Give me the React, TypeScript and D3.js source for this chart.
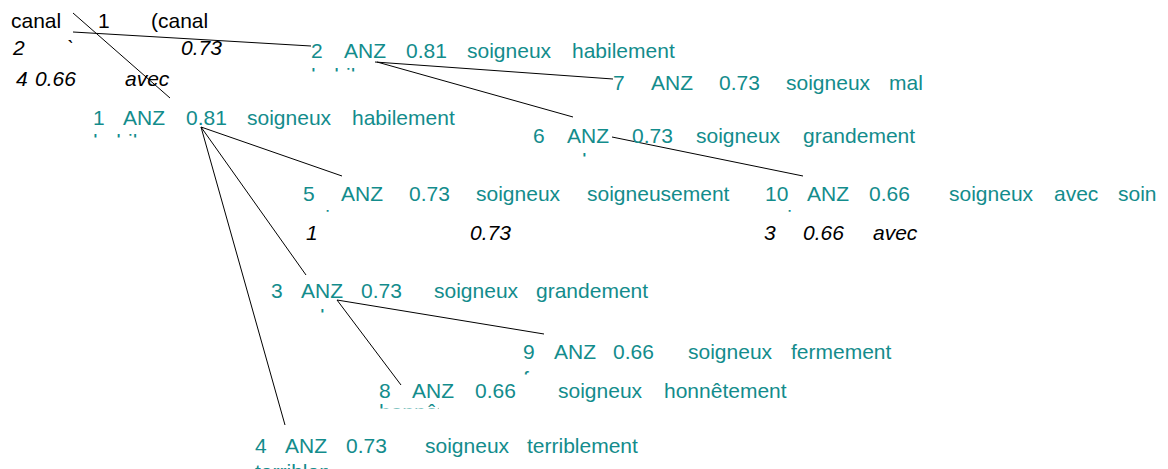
import React from "react";
import * as d3 from "d3";

// ---- data ----
const nodeIds = ["1", "2", "3", "4", "5", "6", "7", "8", "9", "10"];
const nodeLang = "ANZ";
const nodeScores = ["0.81", "0.81", "0.73", "0.73", "0.73", "0.73", "0.73", "0.66", "0.66", "0.66"];
const nodeHead = "soigneux";
const nodeGloss = ["habilement", "habilement", "grandement", "terriblement", "soigneusement", "grandement", "mal", "honnêtement", "fermement", "avec soin"];
const nodeSub = ["habilement", "habilement", "grandement", "terriblement", "soigneusement", "grandement", "mal", "honnêtement", "fermement", "soin"];
const nodeParent = ["root", "root", "1", "1", "1", "2", "2", "3", "3", "6"];

// black annotation rows
const annoRows = [
  ["canal", "1", "(canal"],
  ["2", "`", "0.73"],
  ["4", "0.66", "avec"],
  ["1", "0.73"],
  ["3", "0.66", "avec"],
];
const annoItalic = [false, true, true, true, true];

// ---- layout (pixel positions) ----
const W = 1168;
const H = 469;
const TEAL = "#138c8c";
const FONT = "'Liberation Sans', Arial, sans-serif";
const FS = 21;

const annoLayout = [
  { xs: [11, 98, 151], y: 28 },
  { xs: [13, 67, 181], y: 55 },
  { xs: [16, 35, 125], y: 86 },
  { xs: [306, 470], y: 240 },
  { xs: [764, 803, 873], y: 240 },
];

const nodeLayout = {
  "1": { xs: [93, 123, 186, 247, 352], y: 125, sub: { dy: 24, h: 4, w: 46 } },
  "2": { xs: [311, 344, 406, 467, 572], y: 58, sub: { dy: 25, h: 4, w: 46 } },
  "3": { xs: [271, 301, 361, 434, 536], y: 298, sub: { dy: 26, h: 4, w: 55 } },
  "4": { xs: [255, 285, 346, 425, 527], y: 453, sub: { dy: 26, h: 10, w: 75 } },
  "5": { xs: [303, 341, 409, 476, 587], y: 201, sub: { dy: 24, h: 3, w: 30 } },
  "6": { xs: [533, 567, 632, 696, 803], y: 143, sub: { dy: 25, h: 4, w: 55 } },
  "7": { xs: [613, 651, 719, 786, 889], y: 90, sub: { dy: 25, h: 4, w: 0 } },
  "8": { xs: [379, 412, 475, 558, 664], y: 398, sub: { dy: 21, h: 5, w: 62 } },
  "9": { xs: [523, 554, 613, 688, 791], y: 359, sub: { dy: 27, h: 4, w: 10 } },
  "10": { xs: [765, 807, 869, 949, 1054, 1118], y: 201, sub: { dy: 24, h: 3, w: 30 } },
};

// edge end points, keyed by child id: [from, to]
const edgeLayout = {
  "1": [[73, 13], [170, 98]],
  "2": [[73, 32], [311, 46]],
  "3": [[201, 127], [306, 275]],
  "4": [[201, 127], [285, 425]],
  "5": [[201, 127], [342, 176]],
  "6": [[377, 62], [573, 117]],
  "7": [[375, 62], [613, 79]],
  "8": [[337, 300], [401, 385]],
  "9": [[337, 300], [544, 334]],
  "10": [[612, 137], [803, 176]],
};

const line = d3.line<number[]>().x(d => d[0]).y(d => d[1]);

export default function App() {
  const nodes = nodeIds.map((id, i) => ({
    id,
    parent: nodeParent[i],
    words: [id, nodeLang, nodeScores[i], nodeHead, ...nodeGloss[i].split(" ")],
    sub: nodeSub[i],
  }));

  return (
    <svg
      width={W}
      height={H}
      viewBox={`0 0 ${W} ${H}`}
      style={{ position: "absolute", left: 0, top: 0, background: "#fff" }}
      fontFamily={FONT}
      fontSize={FS}
    >
      <defs>
        {nodes.map(n => {
          const L = nodeLayout[n.id];
          const top = L.y + L.sub.dy - 15.5;
          return (
            <clipPath id={`sub-${n.id}`} key={n.id}>
              <rect x={L.xs[0] - 2} y={top} width={L.sub.w} height={L.sub.h} />
            </clipPath>
          );
        })}
      </defs>

      {/* edges */}
      <g stroke="#000" strokeWidth={1} fill="none">
        {nodes.map(n => (
          <path key={n.id} d={line(edgeLayout[n.id]) || ""} />
        ))}
      </g>

      {/* black annotation rows */}
      {annoRows.map((row, r) => (
        <g key={r} fill="#000" fontStyle={annoItalic[r] ? "italic" : "normal"}>
          {row.map((w, j) => (
            <text key={j} x={annoLayout[r].xs[j]} y={annoLayout[r].y}>{w}</text>
          ))}
        </g>
      ))}

      {/* nodes */}
      {nodes.map(n => {
        const L = nodeLayout[n.id];
        return (
          <g key={n.id} fill={TEAL}>
            {n.words.map((w, j) => (
              <text key={j} x={L.xs[j]} y={L.y}>{w}</text>
            ))}
            <text x={L.xs[0]} y={L.y + L.sub.dy} clipPath={`url(#sub-${n.id})`}>{n.sub}</text>
          </g>
        );
      })}
    </svg>
  );
}
